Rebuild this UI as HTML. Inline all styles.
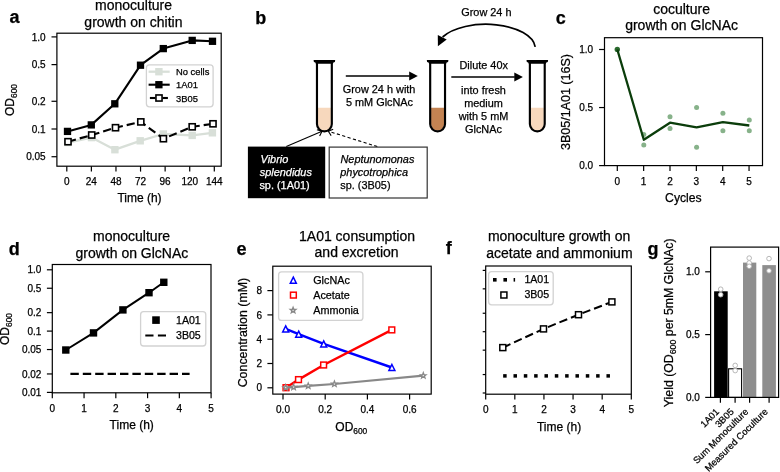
<!DOCTYPE html>
<html><head><meta charset="utf-8"><style>
html,body{margin:0;padding:0;background:#fff;}
svg{display:block;will-change:transform;}
text{font-family:"Liberation Sans", sans-serif;}
text{stroke:#000;stroke-width:0.25px;}
text.w{stroke:#fff;}
</style></head><body>
<svg width="780" height="472" viewBox="0 0 780 472">
<rect width="780" height="472" fill="#fff"/>
<text x="9.60" y="23.40" font-size="18" font-weight="bold">a</text>
<text x="133.50" y="10.20" font-size="14.0" text-anchor="middle">monoculture</text>
<text x="133.40" y="27.00" font-size="14.0" text-anchor="middle">growth on chitin</text>
<line x1="51.50" y1="36.90" x2="56.90" y2="36.90" stroke="#000" stroke-width="1.2" stroke-linecap="butt"/>
<text x="45.60" y="40.50" font-size="10" text-anchor="end">1.0</text>
<line x1="51.50" y1="64.62" x2="56.90" y2="64.62" stroke="#000" stroke-width="1.2" stroke-linecap="butt"/>
<text x="45.60" y="68.22" font-size="10" text-anchor="end">0.5</text>
<line x1="51.50" y1="101.28" x2="56.90" y2="101.28" stroke="#000" stroke-width="1.2" stroke-linecap="butt"/>
<text x="45.60" y="104.88" font-size="10" text-anchor="end">0.2</text>
<line x1="51.50" y1="129.00" x2="56.90" y2="129.00" stroke="#000" stroke-width="1.2" stroke-linecap="butt"/>
<text x="45.60" y="132.60" font-size="10" text-anchor="end">0.1</text>
<line x1="51.50" y1="156.72" x2="56.90" y2="156.72" stroke="#000" stroke-width="1.2" stroke-linecap="butt"/>
<text x="45.60" y="160.32" font-size="10" text-anchor="end">0.05</text>
<line x1="66.80" y1="166.20" x2="66.80" y2="171.60" stroke="#000" stroke-width="1.2" stroke-linecap="butt"/>
<text x="66.80" y="184.60" font-size="10" text-anchor="middle">0</text>
<line x1="91.38" y1="166.20" x2="91.38" y2="171.60" stroke="#000" stroke-width="1.2" stroke-linecap="butt"/>
<text x="91.38" y="184.60" font-size="10" text-anchor="middle">24</text>
<line x1="115.97" y1="166.20" x2="115.97" y2="171.60" stroke="#000" stroke-width="1.2" stroke-linecap="butt"/>
<text x="115.97" y="184.60" font-size="10" text-anchor="middle">48</text>
<line x1="140.55" y1="166.20" x2="140.55" y2="171.60" stroke="#000" stroke-width="1.2" stroke-linecap="butt"/>
<text x="140.55" y="184.60" font-size="10" text-anchor="middle">72</text>
<line x1="165.13" y1="166.20" x2="165.13" y2="171.60" stroke="#000" stroke-width="1.2" stroke-linecap="butt"/>
<text x="165.13" y="184.60" font-size="10" text-anchor="middle">96</text>
<line x1="189.72" y1="166.20" x2="189.72" y2="171.60" stroke="#000" stroke-width="1.2" stroke-linecap="butt"/>
<text x="189.72" y="184.60" font-size="10" text-anchor="middle">120</text>
<line x1="214.30" y1="166.20" x2="214.30" y2="171.60" stroke="#000" stroke-width="1.2" stroke-linecap="butt"/>
<text x="214.30" y="184.60" font-size="10" text-anchor="middle">144</text>
<text x="139.50" y="202.00" font-size="12" text-anchor="middle">Time (h)</text>
<text transform="translate(14.1 100) rotate(-90)" font-size="12" text-anchor="middle">OD<tspan font-size="8.4" dy="3">600</tspan></text>
<polyline points="68.00,142.50 91.50,137.60 114.90,149.70 140.20,140.80 163.30,134.00 192.20,135.40 212.40,132.80" fill="none" stroke="#d8dfd8" stroke-width="2.3" stroke-linejoin="round" stroke-linecap="butt"/>
<rect x="64.30" y="138.80" width="7.40" height="7.40" fill="#d8dfd8"/>
<rect x="87.80" y="133.90" width="7.40" height="7.40" fill="#d8dfd8"/>
<rect x="111.20" y="146.00" width="7.40" height="7.40" fill="#d8dfd8"/>
<rect x="136.50" y="137.10" width="7.40" height="7.40" fill="#d8dfd8"/>
<rect x="159.60" y="130.30" width="7.40" height="7.40" fill="#d8dfd8"/>
<rect x="188.50" y="131.70" width="7.40" height="7.40" fill="#d8dfd8"/>
<rect x="208.70" y="129.10" width="7.40" height="7.40" fill="#d8dfd8"/>
<polyline points="67.50,131.40 91.30,124.90 114.80,103.80 140.50,65.20 163.30,48.60 192.20,40.40 212.50,41.30" fill="none" stroke="#000" stroke-width="2.1" stroke-linejoin="round" stroke-linecap="butt"/>
<rect x="63.85" y="127.75" width="7.30" height="7.30" fill="#000"/>
<rect x="87.65" y="121.25" width="7.30" height="7.30" fill="#000"/>
<rect x="111.15" y="100.15" width="7.30" height="7.30" fill="#000"/>
<rect x="136.85" y="61.55" width="7.30" height="7.30" fill="#000"/>
<rect x="159.65" y="44.95" width="7.30" height="7.30" fill="#000"/>
<rect x="188.55" y="36.75" width="7.30" height="7.30" fill="#000"/>
<rect x="208.85" y="37.65" width="7.30" height="7.30" fill="#000"/>
<polyline points="68.00,141.70 91.70,135.00 115.50,127.70 140.80,121.90 163.40,138.70 192.20,126.80 213.00,123.80" fill="none" stroke="#000" stroke-width="2.1" stroke-linejoin="round" stroke-linecap="butt" stroke-dasharray="8.2 4.0"/>
<rect x="64.95" y="138.65" width="6.10" height="6.10" fill="#fff" stroke="#000" stroke-width="1.6"/>
<rect x="88.65" y="131.95" width="6.10" height="6.10" fill="#fff" stroke="#000" stroke-width="1.6"/>
<rect x="112.45" y="124.65" width="6.10" height="6.10" fill="#fff" stroke="#000" stroke-width="1.6"/>
<rect x="137.75" y="118.85" width="6.10" height="6.10" fill="#fff" stroke="#000" stroke-width="1.6"/>
<rect x="160.35" y="135.65" width="6.10" height="6.10" fill="#fff" stroke="#000" stroke-width="1.6"/>
<rect x="189.15" y="123.75" width="6.10" height="6.10" fill="#fff" stroke="#000" stroke-width="1.6"/>
<rect x="209.95" y="120.75" width="6.10" height="6.10" fill="#fff" stroke="#000" stroke-width="1.6"/>
<rect x="56.90" y="33.20" width="164.30" height="133.00" fill="none" stroke="#000" stroke-width="1.2"/>
<rect x="146.40" y="64.80" width="66.70" height="42.00" rx="3" ry="3" fill="#fff" fill-opacity="0.8" stroke="#d2d2d2" stroke-width="1.3"/>
<polyline points="148.60,71.70 169.70,71.70" fill="none" stroke="#d8dfd8" stroke-width="2.3" stroke-linejoin="round" stroke-linecap="butt"/>
<rect x="155.20" y="68.00" width="7.40" height="7.40" fill="#d8dfd8"/>
<polyline points="148.60,84.70 169.70,84.70" fill="none" stroke="#000" stroke-width="2.1" stroke-linejoin="round" stroke-linecap="butt"/>
<rect x="155.25" y="81.05" width="7.30" height="7.30" fill="#000"/>
<polyline points="149.90,98.00 155.50,98.00" fill="none" stroke="#000" stroke-width="2.1" stroke-linejoin="round" stroke-linecap="butt"/>
<polyline points="162.50,98.00 167.90,98.00" fill="none" stroke="#000" stroke-width="2.1" stroke-linejoin="round" stroke-linecap="butt"/>
<rect x="155.95" y="94.95" width="6.10" height="6.10" fill="#fff" stroke="#000" stroke-width="1.6"/>
<text x="176.00" y="75.10" font-size="9.4">No cells</text>
<text x="176.00" y="88.40" font-size="9.4">1A01</text>
<text x="176.00" y="101.70" font-size="9.4">3B05</text>
<text x="255.20" y="24.20" font-size="18" font-weight="bold">b</text>
<line x1="286.30" y1="146.60" x2="322.00" y2="131.20" stroke="#000" stroke-width="1.1" stroke-linecap="butt"/>
<line x1="322.00" y1="131.20" x2="316.92" y2="129.68" stroke="#000" stroke-width="1.1" stroke-linecap="butt"/>
<line x1="322.00" y1="131.20" x2="319.62" y2="135.94" stroke="#000" stroke-width="1.1" stroke-linecap="butt"/>
<line x1="377.30" y1="146.60" x2="328.30" y2="131.20" stroke="#000" stroke-width="1.1" stroke-linecap="butt" stroke-dasharray="3.2 2.4"/>
<line x1="328.30" y1="131.20" x2="331.15" y2="135.67" stroke="#000" stroke-width="1.1" stroke-linecap="butt"/>
<line x1="328.30" y1="131.20" x2="333.19" y2="129.17" stroke="#000" stroke-width="1.1" stroke-linecap="butt"/>
<path d="M317.85 107.8 L330.95 107.8 L330.95 124.00 A6.55 6.55 0 0 1 317.85 124.00 Z" fill="#f7d8bd"/>
<path d="M316.97 61.90 L316.97 124.00 A7.42 7.42 0 0 0 331.82 124.00 L331.82 61.90" fill="none" stroke="#000" stroke-width="2.15"/>
<path d="M313.60 59.90 L335.20 59.90 L334.90 62.00 Q333.00 62.30 332.90 63.80 L315.90 63.80 Q315.80 62.30 313.90 62.00 Z" fill="#000"/>
<path d="M431.05 107.8 L444.15 107.8 L444.15 124.00 A6.55 6.55 0 0 1 431.05 124.00 Z" fill="#c38352"/>
<path d="M430.18 61.90 L430.18 124.00 A7.42 7.42 0 0 0 445.03 124.00 L445.03 61.90" fill="none" stroke="#000" stroke-width="2.15"/>
<path d="M426.80 59.90 L448.40 59.90 L448.10 62.00 Q446.20 62.30 446.10 63.80 L429.10 63.80 Q429.00 62.30 427.10 62.00 Z" fill="#000"/>
<path d="M530.75 107.8 L543.85 107.8 L543.85 124.00 A6.55 6.55 0 0 1 530.75 124.00 Z" fill="#f7d8bd"/>
<path d="M529.88 61.90 L529.88 124.00 A7.42 7.42 0 0 0 544.72 124.00 L544.72 61.90" fill="none" stroke="#000" stroke-width="2.15"/>
<path d="M526.50 59.90 L548.10 59.90 L547.80 62.00 Q545.90 62.30 545.80 63.80 L528.80 63.80 Q528.70 62.30 526.80 62.00 Z" fill="#000"/>
<line x1="345.80" y1="76.00" x2="409.70" y2="76.00" stroke="#000" stroke-width="1.6" stroke-linecap="butt"/>
<path d="M417.80 76.00 L409.20 80.40 L409.20 71.60 Z" fill="#000"/>
<line x1="451.30" y1="77.00" x2="514.80" y2="77.00" stroke="#000" stroke-width="1.6" stroke-linecap="butt"/>
<path d="M522.90 77.00 L514.30 81.40 L514.30 72.60 Z" fill="#000"/>
<text x="379.10" y="93.00" font-size="10.9" text-anchor="middle">Grow 24 h with</text>
<text x="379.50" y="106.10" font-size="10.9" text-anchor="middle">5 mM GlcNAc</text>
<text x="483.70" y="68.70" font-size="10.9" text-anchor="middle">Dilute 40x</text>
<text x="483.50" y="94.00" font-size="10.9" text-anchor="middle">into fresh</text>
<text x="483.50" y="106.85" font-size="10.9" text-anchor="middle">medium</text>
<text x="483.50" y="119.70" font-size="10.9" text-anchor="middle">with 5 mM</text>
<text x="483.50" y="132.55" font-size="10.9" text-anchor="middle">GlcNAc</text>
<text x="486.40" y="15.80" font-size="10.9" text-anchor="middle">Grow 24 h</text>
<path d="M535.2 46.8 A49.4 24.5 0 0 0 442.6 37.0" fill="none" stroke="#000" stroke-width="1.7"/>
<path d="M437.9 46.2 L437.8 34.9 L446.7 39.5 Z" fill="#000"/>
<rect x="247.9" y="146.6" width="77.3" height="51.6" fill="#000"/>
<rect x="329.2" y="147.1" width="98" height="50.9" fill="#fff" stroke="#333" stroke-width="1.2"/>
<text x="260.60" y="162.50" font-size="10.9" font-style="italic" fill="#fff" class="w">Vibrio</text>
<text x="259.80" y="175.60" font-size="10.9" font-style="italic" fill="#fff" class="w">splendidus</text>
<text x="259.40" y="188.70" font-size="10.9" fill="#fff" class="w">sp. (1A01)</text>
<text x="340.50" y="162.50" font-size="10.9" font-style="italic">Neptunomonas</text>
<text x="340.30" y="175.60" font-size="10.9" font-style="italic">phycotrophica</text>
<text x="340.30" y="188.70" font-size="10.9">sp. (3B05)</text>
<text x="555.80" y="23.70" font-size="18" font-weight="bold">c</text>
<text x="681.60" y="13.60" font-size="14.0" text-anchor="middle">coculture</text>
<text x="681.60" y="30.00" font-size="14.0" text-anchor="middle">growth on GlcNAc</text>
<line x1="599.10" y1="165.60" x2="604.50" y2="165.60" stroke="#000" stroke-width="1.2" stroke-linecap="butt"/>
<text x="593.20" y="169.20" font-size="10" text-anchor="end">0.0</text>
<line x1="599.10" y1="107.55" x2="604.50" y2="107.55" stroke="#000" stroke-width="1.2" stroke-linecap="butt"/>
<text x="593.20" y="111.15" font-size="10" text-anchor="end">0.5</text>
<line x1="599.10" y1="49.50" x2="604.50" y2="49.50" stroke="#000" stroke-width="1.2" stroke-linecap="butt"/>
<text x="593.20" y="53.10" font-size="10" text-anchor="end">1.0</text>
<line x1="617.30" y1="165.60" x2="617.30" y2="171.00" stroke="#000" stroke-width="1.2" stroke-linecap="butt"/>
<text x="617.30" y="184.80" font-size="10" text-anchor="middle">0</text>
<line x1="643.65" y1="165.60" x2="643.65" y2="171.00" stroke="#000" stroke-width="1.2" stroke-linecap="butt"/>
<text x="643.65" y="184.80" font-size="10" text-anchor="middle">1</text>
<line x1="670.00" y1="165.60" x2="670.00" y2="171.00" stroke="#000" stroke-width="1.2" stroke-linecap="butt"/>
<text x="670.00" y="184.80" font-size="10" text-anchor="middle">2</text>
<line x1="696.35" y1="165.60" x2="696.35" y2="171.00" stroke="#000" stroke-width="1.2" stroke-linecap="butt"/>
<text x="696.35" y="184.80" font-size="10" text-anchor="middle">3</text>
<line x1="722.70" y1="165.60" x2="722.70" y2="171.00" stroke="#000" stroke-width="1.2" stroke-linecap="butt"/>
<text x="722.70" y="184.80" font-size="10" text-anchor="middle">4</text>
<line x1="749.05" y1="165.60" x2="749.05" y2="171.00" stroke="#000" stroke-width="1.2" stroke-linecap="butt"/>
<text x="749.05" y="184.80" font-size="10" text-anchor="middle">5</text>
<text x="683.40" y="202.20" font-size="12.2" text-anchor="middle">Cycles</text>
<text x="569.60" y="102.00" font-size="12.5" text-anchor="middle" transform="rotate(-90 569.60 102.00)">3B05/1A01 (16S)</text>
<circle cx="643.80" cy="144.90" r="2.50" fill="#87b28a"/>
<circle cx="643.80" cy="134.50" r="2.50" fill="#87b28a"/>
<circle cx="670.00" cy="116.80" r="2.50" fill="#87b28a"/>
<circle cx="670.00" cy="128.60" r="2.50" fill="#87b28a"/>
<circle cx="696.60" cy="107.40" r="2.50" fill="#87b28a"/>
<circle cx="696.60" cy="147.30" r="2.50" fill="#87b28a"/>
<circle cx="722.90" cy="113.30" r="2.50" fill="#87b28a"/>
<circle cx="722.90" cy="130.80" r="2.50" fill="#87b28a"/>
<circle cx="749.30" cy="120.10" r="2.50" fill="#87b28a"/>
<circle cx="749.30" cy="130.80" r="2.50" fill="#87b28a"/>
<circle cx="617.30" cy="49.40" r="2.70" fill="#2a6a2e"/>
<polyline points="617.30,49.50 643.80,139.70 670.00,122.70 696.60,127.40 722.90,122.10 749.30,125.50" fill="none" stroke="#0b3d0b" stroke-width="2.3" stroke-linejoin="round" stroke-linecap="butt"/>
<rect x="604.50" y="37.70" width="158.00" height="127.90" fill="none" stroke="#000" stroke-width="1.2"/>
<text x="8.70" y="254.50" font-size="18" font-weight="bold">d</text>
<text x="131.60" y="241.10" font-size="14.0" text-anchor="middle">monoculture</text>
<text x="131.90" y="258.10" font-size="14.0" text-anchor="middle">growth on GlcNAc</text>
<line x1="46.90" y1="269.80" x2="52.30" y2="269.80" stroke="#000" stroke-width="1.2" stroke-linecap="butt"/>
<text x="41.40" y="273.40" font-size="10" text-anchor="end">1.0</text>
<line x1="46.90" y1="288.25" x2="52.30" y2="288.25" stroke="#000" stroke-width="1.2" stroke-linecap="butt"/>
<text x="41.40" y="291.85" font-size="10" text-anchor="end">0.5</text>
<line x1="46.90" y1="312.65" x2="52.30" y2="312.65" stroke="#000" stroke-width="1.2" stroke-linecap="butt"/>
<text x="41.40" y="316.25" font-size="10" text-anchor="end">0.2</text>
<line x1="46.90" y1="331.10" x2="52.30" y2="331.10" stroke="#000" stroke-width="1.2" stroke-linecap="butt"/>
<text x="41.40" y="334.70" font-size="10" text-anchor="end">0.1</text>
<line x1="46.90" y1="349.55" x2="52.30" y2="349.55" stroke="#000" stroke-width="1.2" stroke-linecap="butt"/>
<text x="41.40" y="353.15" font-size="10" text-anchor="end">0.05</text>
<line x1="46.90" y1="373.95" x2="52.30" y2="373.95" stroke="#000" stroke-width="1.2" stroke-linecap="butt"/>
<text x="41.40" y="377.55" font-size="10" text-anchor="end">0.02</text>
<line x1="46.90" y1="392.40" x2="52.30" y2="392.40" stroke="#000" stroke-width="1.2" stroke-linecap="butt"/>
<text x="41.40" y="396.00" font-size="10" text-anchor="end">0.01</text>
<line x1="52.30" y1="392.80" x2="52.30" y2="398.20" stroke="#000" stroke-width="1.2" stroke-linecap="butt"/>
<text x="52.30" y="411.80" font-size="10" text-anchor="middle">0</text>
<line x1="84.06" y1="392.80" x2="84.06" y2="398.20" stroke="#000" stroke-width="1.2" stroke-linecap="butt"/>
<text x="84.06" y="411.80" font-size="10" text-anchor="middle">1</text>
<line x1="115.82" y1="392.80" x2="115.82" y2="398.20" stroke="#000" stroke-width="1.2" stroke-linecap="butt"/>
<text x="115.82" y="411.80" font-size="10" text-anchor="middle">2</text>
<line x1="147.58" y1="392.80" x2="147.58" y2="398.20" stroke="#000" stroke-width="1.2" stroke-linecap="butt"/>
<text x="147.58" y="411.80" font-size="10" text-anchor="middle">3</text>
<line x1="179.34" y1="392.80" x2="179.34" y2="398.20" stroke="#000" stroke-width="1.2" stroke-linecap="butt"/>
<text x="179.34" y="411.80" font-size="10" text-anchor="middle">4</text>
<line x1="211.10" y1="392.80" x2="211.10" y2="398.20" stroke="#000" stroke-width="1.2" stroke-linecap="butt"/>
<text x="211.10" y="411.80" font-size="10" text-anchor="middle">5</text>
<text x="131.70" y="428.80" font-size="12" text-anchor="middle">Time (h)</text>
<text transform="translate(9.2 329.0) rotate(-90)" font-size="12" text-anchor="middle">OD<tspan font-size="8.4" dy="3">600</tspan></text>
<polyline points="65.80,350.00 93.50,332.90 122.90,309.90 149.00,292.70 163.80,282.30" fill="none" stroke="#000" stroke-width="2.0" stroke-linejoin="round" stroke-linecap="butt"/>
<rect x="62.10" y="346.30" width="7.40" height="7.40" fill="#000"/>
<rect x="89.80" y="329.20" width="7.40" height="7.40" fill="#000"/>
<rect x="119.20" y="306.20" width="7.40" height="7.40" fill="#000"/>
<rect x="145.30" y="289.00" width="7.40" height="7.40" fill="#000"/>
<rect x="160.10" y="278.60" width="7.40" height="7.40" fill="#000"/>
<polyline points="70.40,373.80 189.60,373.80" fill="none" stroke="#000" stroke-width="2.2" stroke-linejoin="round" stroke-linecap="butt" stroke-dasharray="8.4 4"/>
<rect x="140.60" y="311.70" width="65.20" height="34.30" rx="3" ry="3" fill="#fff" fill-opacity="0.8" stroke="#d2d2d2" stroke-width="1.3"/>
<rect x="152.20" y="316.30" width="7.60" height="7.60" fill="#000"/>
<polyline points="145.30,335.50 166.00,335.50" fill="none" stroke="#000" stroke-width="2.2" stroke-linejoin="round" stroke-linecap="butt" stroke-dasharray="8.2 4.4"/>
<text x="176.00" y="324.00" font-size="10.6">1A01</text>
<text x="176.00" y="338.80" font-size="10.6">3B05</text>
<rect x="52.30" y="264.50" width="158.70" height="128.30" fill="none" stroke="#000" stroke-width="1.2"/>
<text x="236.50" y="254.50" font-size="18" font-weight="bold">e</text>
<text x="357.00" y="241.10" font-size="14.0" text-anchor="middle">1A01 consumption</text>
<text x="356.60" y="257.40" font-size="14.0" text-anchor="middle">and excretion</text>
<line x1="267.40" y1="387.80" x2="272.80" y2="387.80" stroke="#000" stroke-width="1.2" stroke-linecap="butt"/>
<text x="262.00" y="391.40" font-size="10" text-anchor="end">0</text>
<line x1="267.40" y1="363.50" x2="272.80" y2="363.50" stroke="#000" stroke-width="1.2" stroke-linecap="butt"/>
<text x="262.00" y="367.10" font-size="10" text-anchor="end">2</text>
<line x1="267.40" y1="339.20" x2="272.80" y2="339.20" stroke="#000" stroke-width="1.2" stroke-linecap="butt"/>
<text x="262.00" y="342.80" font-size="10" text-anchor="end">4</text>
<line x1="267.40" y1="314.90" x2="272.80" y2="314.90" stroke="#000" stroke-width="1.2" stroke-linecap="butt"/>
<text x="262.00" y="318.50" font-size="10" text-anchor="end">6</text>
<line x1="267.40" y1="290.60" x2="272.80" y2="290.60" stroke="#000" stroke-width="1.2" stroke-linecap="butt"/>
<text x="262.00" y="294.20" font-size="10" text-anchor="end">8</text>
<line x1="283.00" y1="394.10" x2="283.00" y2="399.50" stroke="#000" stroke-width="1.2" stroke-linecap="butt"/>
<text x="283.00" y="413.10" font-size="10" text-anchor="middle">0.0</text>
<line x1="325.20" y1="394.10" x2="325.20" y2="399.50" stroke="#000" stroke-width="1.2" stroke-linecap="butt"/>
<text x="325.20" y="413.10" font-size="10" text-anchor="middle">0.2</text>
<line x1="367.40" y1="394.10" x2="367.40" y2="399.50" stroke="#000" stroke-width="1.2" stroke-linecap="butt"/>
<text x="367.40" y="413.10" font-size="10" text-anchor="middle">0.4</text>
<line x1="409.60" y1="394.10" x2="409.60" y2="399.50" stroke="#000" stroke-width="1.2" stroke-linecap="butt"/>
<text x="409.60" y="413.10" font-size="10" text-anchor="middle">0.6</text>
<text transform="translate(246.8 332.6) rotate(-90)" font-size="12.4" text-anchor="middle">Concentration (mM)</text>
<text x="351.3" y="430.6" font-size="12" text-anchor="middle">OD<tspan font-size="8.4" dy="3">600</tspan></text>
<polyline points="285.70,328.90 298.70,334.20 323.70,343.90 391.90,367.50" fill="none" stroke="#0000ff" stroke-width="2.4" stroke-linejoin="round" stroke-linecap="butt"/>
<path d="M285.70 325.90 L288.70 331.90 L282.70 331.90 Z" fill="#fff" stroke="#0000ff" stroke-width="1.5" stroke-linejoin="miter"/>
<path d="M298.70 331.20 L301.70 337.20 L295.70 337.20 Z" fill="#fff" stroke="#0000ff" stroke-width="1.5" stroke-linejoin="miter"/>
<path d="M323.70 340.90 L326.70 346.90 L320.70 346.90 Z" fill="#fff" stroke="#0000ff" stroke-width="1.5" stroke-linejoin="miter"/>
<path d="M391.90 364.50 L394.90 370.50 L388.90 370.50 Z" fill="#fff" stroke="#0000ff" stroke-width="1.5" stroke-linejoin="miter"/>
<polyline points="286.00,387.70 298.50,379.60 323.60,365.00 391.80,329.90" fill="none" stroke="#ff0000" stroke-width="2.4" stroke-linejoin="round" stroke-linecap="butt"/>
<rect x="283.10" y="384.80" width="5.80" height="5.80" fill="#fff" stroke="#ff0000" stroke-width="1.5"/>
<rect x="295.60" y="376.70" width="5.80" height="5.80" fill="#fff" stroke="#ff0000" stroke-width="1.5"/>
<rect x="320.70" y="362.10" width="5.80" height="5.80" fill="#fff" stroke="#ff0000" stroke-width="1.5"/>
<rect x="388.90" y="327.00" width="5.80" height="5.80" fill="#fff" stroke="#ff0000" stroke-width="1.5"/>
<polyline points="285.70,387.60 293.60,387.10 308.20,385.90 334.40,384.00 423.30,375.60" fill="none" stroke="#888" stroke-width="2.2" stroke-linejoin="round" stroke-linecap="butt"/>
<polygon points="285.70,384.70 286.42,386.61 288.46,386.70 286.86,387.98 287.40,389.95 285.70,388.82 284.00,389.95 284.54,387.98 282.94,386.70 284.98,386.61" fill="#fff" stroke="#888" stroke-width="1.3" stroke-linejoin="miter"/>
<polygon points="293.60,384.20 294.32,386.11 296.36,386.20 294.76,387.48 295.30,389.45 293.60,388.32 291.90,389.45 292.44,387.48 290.84,386.20 292.88,386.11" fill="#fff" stroke="#888" stroke-width="1.3" stroke-linejoin="miter"/>
<polygon points="308.20,383.00 308.92,384.91 310.96,385.00 309.36,386.28 309.90,388.25 308.20,387.12 306.50,388.25 307.04,386.28 305.44,385.00 307.48,384.91" fill="#fff" stroke="#888" stroke-width="1.3" stroke-linejoin="miter"/>
<polygon points="334.40,381.10 335.12,383.01 337.16,383.10 335.56,384.38 336.10,386.35 334.40,385.22 332.70,386.35 333.24,384.38 331.64,383.10 333.68,383.01" fill="#fff" stroke="#888" stroke-width="1.3" stroke-linejoin="miter"/>
<polygon points="423.30,372.70 424.02,374.61 426.06,374.70 424.46,375.98 425.00,377.95 423.30,376.82 421.60,377.95 422.14,375.98 420.54,374.70 422.58,374.61" fill="#fff" stroke="#888" stroke-width="1.3" stroke-linejoin="miter"/>
<rect x="278.60" y="271.80" width="84.30" height="48.60" rx="3" ry="3" fill="#fff" fill-opacity="0.8" stroke="#d2d2d2" stroke-width="1.3"/>
<path d="M293.30 277.20 L296.30 283.20 L290.30 283.20 Z" fill="#fff" stroke="#0000ff" stroke-width="1.5" stroke-linejoin="miter"/>
<rect x="290.50" y="292.20" width="5.80" height="5.80" fill="#fff" stroke="#ff0000" stroke-width="1.5"/>
<polygon points="293.10,307.40 293.82,309.31 295.86,309.40 294.26,310.68 294.80,312.65 293.10,311.52 291.40,312.65 291.94,310.68 290.34,309.40 292.38,309.31" fill="#fff" stroke="#888" stroke-width="1.4" stroke-linejoin="miter"/>
<text x="313.20" y="283.60" font-size="10.8">GlcNAc</text>
<text x="313.20" y="298.70" font-size="10.8">Acetate</text>
<text x="313.20" y="313.60" font-size="10.8">Ammonia</text>
<rect x="272.80" y="266.20" width="158.40" height="127.90" fill="none" stroke="#000" stroke-width="1.2"/>
<text x="445.80" y="254.40" font-size="18" font-weight="bold">f</text>
<text x="559.10" y="241.10" font-size="14.0" text-anchor="middle">monoculture growth on</text>
<text x="559.40" y="257.50" font-size="14.0" text-anchor="middle">acetate and ammonium</text>
<line x1="482.70" y1="270.40" x2="485.70" y2="270.40" stroke="#000" stroke-width="1.2" stroke-linecap="butt"/>
<line x1="482.70" y1="288.85" x2="485.70" y2="288.85" stroke="#000" stroke-width="1.2" stroke-linecap="butt"/>
<line x1="482.70" y1="313.25" x2="485.70" y2="313.25" stroke="#000" stroke-width="1.2" stroke-linecap="butt"/>
<line x1="482.70" y1="331.70" x2="485.70" y2="331.70" stroke="#000" stroke-width="1.2" stroke-linecap="butt"/>
<line x1="482.70" y1="350.15" x2="485.70" y2="350.15" stroke="#000" stroke-width="1.2" stroke-linecap="butt"/>
<line x1="482.70" y1="374.55" x2="485.70" y2="374.55" stroke="#000" stroke-width="1.2" stroke-linecap="butt"/>
<line x1="482.70" y1="393.00" x2="485.70" y2="393.00" stroke="#000" stroke-width="1.2" stroke-linecap="butt"/>
<line x1="485.70" y1="394.20" x2="485.70" y2="399.60" stroke="#000" stroke-width="1.2" stroke-linecap="butt"/>
<text x="485.70" y="413.00" font-size="10" text-anchor="middle">0</text>
<line x1="514.82" y1="394.20" x2="514.82" y2="399.60" stroke="#000" stroke-width="1.2" stroke-linecap="butt"/>
<text x="514.82" y="413.00" font-size="10" text-anchor="middle">1</text>
<line x1="543.94" y1="394.20" x2="543.94" y2="399.60" stroke="#000" stroke-width="1.2" stroke-linecap="butt"/>
<text x="543.94" y="413.00" font-size="10" text-anchor="middle">2</text>
<line x1="573.06" y1="394.20" x2="573.06" y2="399.60" stroke="#000" stroke-width="1.2" stroke-linecap="butt"/>
<text x="573.06" y="413.00" font-size="10" text-anchor="middle">3</text>
<line x1="602.18" y1="394.20" x2="602.18" y2="399.60" stroke="#000" stroke-width="1.2" stroke-linecap="butt"/>
<text x="602.18" y="413.00" font-size="10" text-anchor="middle">4</text>
<line x1="631.30" y1="394.20" x2="631.30" y2="399.60" stroke="#000" stroke-width="1.2" stroke-linecap="butt"/>
<text x="631.30" y="413.00" font-size="10" text-anchor="middle">5</text>
<text x="559.10" y="430.80" font-size="12" text-anchor="middle">Time (h)</text>
<polyline points="502.80,347.60 543.50,328.90 578.50,314.70 611.90,301.90" fill="none" stroke="#000" stroke-width="2.0" stroke-linejoin="round" stroke-linecap="butt" stroke-dasharray="8.4 4.0"/>
<rect x="499.80" y="344.60" width="6.00" height="6.00" fill="#fff" stroke="#000" stroke-width="1.5"/>
<rect x="540.50" y="325.90" width="6.00" height="6.00" fill="#fff" stroke="#000" stroke-width="1.5"/>
<rect x="575.50" y="311.70" width="6.00" height="6.00" fill="#fff" stroke="#000" stroke-width="1.5"/>
<rect x="608.90" y="298.90" width="6.00" height="6.00" fill="#fff" stroke="#000" stroke-width="1.5"/>
<rect x="503.15" y="374.15" width="3.50" height="3.50" fill="#000"/>
<rect x="513.48" y="374.15" width="3.50" height="3.50" fill="#000"/>
<rect x="523.81" y="374.15" width="3.50" height="3.50" fill="#000"/>
<rect x="534.14" y="374.15" width="3.50" height="3.50" fill="#000"/>
<rect x="544.47" y="374.15" width="3.50" height="3.50" fill="#000"/>
<rect x="554.80" y="374.15" width="3.50" height="3.50" fill="#000"/>
<rect x="565.13" y="374.15" width="3.50" height="3.50" fill="#000"/>
<rect x="575.46" y="374.15" width="3.50" height="3.50" fill="#000"/>
<rect x="585.79" y="374.15" width="3.50" height="3.50" fill="#000"/>
<rect x="596.12" y="374.15" width="3.50" height="3.50" fill="#000"/>
<rect x="606.45" y="374.15" width="3.50" height="3.50" fill="#000"/>
<rect x="488.60" y="271.60" width="64.60" height="33.20" rx="3" ry="3" fill="#fff" fill-opacity="0.8" stroke="#d2d2d2" stroke-width="1.3"/>
<rect x="493.00" y="278.00" width="3.60" height="3.60" fill="#000"/>
<rect x="503.40" y="278.00" width="3.60" height="3.60" fill="#000"/>
<rect x="513.6" y="278.0" width="1.5" height="3.6" fill="#000"/>
<rect x="500.90" y="292.00" width="6.00" height="6.00" fill="#fff" stroke="#000" stroke-width="1.5"/>
<text x="524.40" y="283.00" font-size="10.6">1A01</text>
<text x="524.40" y="298.20" font-size="10.6">3B05</text>
<rect x="485.70" y="266.00" width="145.60" height="128.20" fill="none" stroke="#000" stroke-width="1.2"/>
<text x="647.40" y="254.50" font-size="18" font-weight="bold">g</text>
<line x1="705.20" y1="397.40" x2="710.60" y2="397.40" stroke="#000" stroke-width="1.2" stroke-linecap="butt"/>
<text x="699.90" y="401.00" font-size="10" text-anchor="end">0.0</text>
<line x1="705.20" y1="334.60" x2="710.60" y2="334.60" stroke="#000" stroke-width="1.2" stroke-linecap="butt"/>
<text x="699.90" y="338.20" font-size="10" text-anchor="end">0.5</text>
<line x1="705.20" y1="271.80" x2="710.60" y2="271.80" stroke="#000" stroke-width="1.2" stroke-linecap="butt"/>
<text x="699.90" y="275.40" font-size="10" text-anchor="end">1.0</text>
<rect x="714.1" y="291.3" width="13.6" height="106.10" fill="#000"/>
<rect x="728.6" y="368.8" width="13.0" height="28.60" fill="#fff" stroke="#000" stroke-width="1.1"/>
<rect x="743.0" y="262.6" width="13.3" height="134.80" fill="#8e8e8e"/>
<rect x="762.3" y="265.1" width="13.6" height="132.30" fill="#8e8e8e"/>
<circle cx="720.70" cy="289.20" r="2.30" fill="#fff" stroke="#b0b0b0" stroke-width="0.9"/>
<circle cx="720.70" cy="294.70" r="2.30" fill="#fff" stroke="#b0b0b0" stroke-width="0.9"/>
<circle cx="735.20" cy="365.40" r="2.30" fill="#fff" stroke="#b0b0b0" stroke-width="0.9"/>
<circle cx="735.20" cy="370.60" r="2.30" fill="#fff" stroke="#b0b0b0" stroke-width="0.9"/>
<circle cx="749.20" cy="258.10" r="2.30" fill="#fff" stroke="#b0b0b0" stroke-width="0.9"/>
<circle cx="749.20" cy="262.90" r="2.30" fill="#fff" stroke="#b0b0b0" stroke-width="0.9"/>
<circle cx="749.20" cy="266.30" r="2.30" fill="#fff" stroke="#b0b0b0" stroke-width="0.9"/>
<circle cx="769.00" cy="258.60" r="2.30" fill="#fff" stroke="#b0b0b0" stroke-width="0.9"/>
<circle cx="769.00" cy="270.80" r="2.30" fill="#fff" stroke="#b0b0b0" stroke-width="0.9"/>
<line x1="720.40" y1="397.40" x2="720.40" y2="402.80" stroke="#000" stroke-width="1.2" stroke-linecap="butt"/>
<line x1="735.10" y1="397.40" x2="735.10" y2="402.80" stroke="#000" stroke-width="1.2" stroke-linecap="butt"/>
<line x1="749.60" y1="397.40" x2="749.60" y2="402.80" stroke="#000" stroke-width="1.2" stroke-linecap="butt"/>
<line x1="769.10" y1="397.40" x2="769.10" y2="402.80" stroke="#000" stroke-width="1.2" stroke-linecap="butt"/>
<rect x="710.60" y="247.10" width="68.00" height="150.30" fill="none" stroke="#000" stroke-width="1.2"/>
<text transform="translate(719.70 412.40) rotate(-45)" font-size="9.4" text-anchor="end">1A01</text>
<text transform="translate(734.40 412.40) rotate(-45)" font-size="9.4" text-anchor="end">3B05</text>
<text transform="translate(748.90 412.40) rotate(-45)" font-size="9.4" text-anchor="end">Sum Monoculture</text>
<text transform="translate(768.40 412.40) rotate(-45)" font-size="9.4" text-anchor="end">Measured Coculture</text>
<text transform="translate(673.4 322.8) rotate(-90)" font-size="12.3" text-anchor="middle">Yield (OD<tspan font-size="8.8" dy="2.8">600</tspan><tspan dy="-2.8"> per 5mM GlcNAc)</tspan></text>
</svg>
</body></html>
